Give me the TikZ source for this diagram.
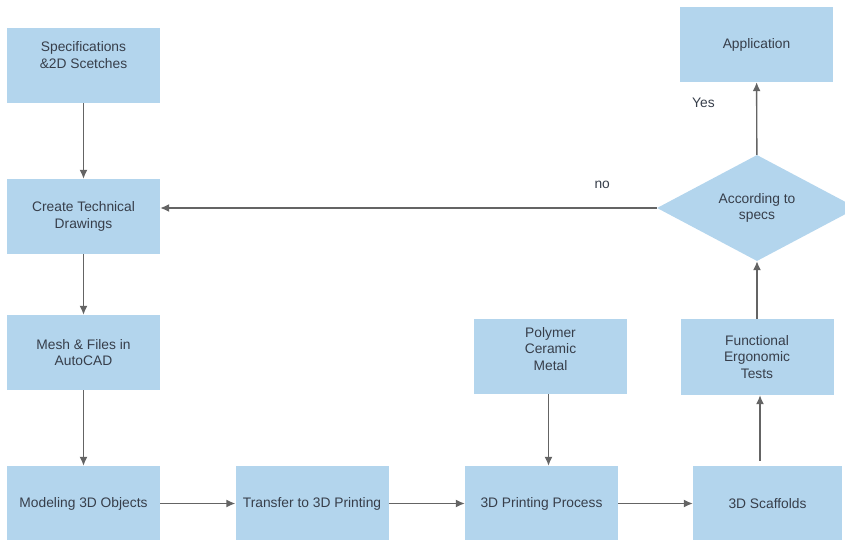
\documentclass[tikz,border=0pt]{standalone}
\usepackage{fontspec}
\setmainfont{Liberation Sans}
\usetikzlibrary{shapes.geometric,arrows.meta}
\definecolor{boxblue}{RGB}{179,213,237}
\definecolor{inkgray}{RGB}{55,62,74}
\definecolor{linegray}{RGB}{100,100,100}
\tikzset{>={Latex[length=9pt,width=8pt]}}
\tikzset{
  block/.style = {fill=boxblue, minimum width=153pt, minimum height=75pt,
    inner sep=0pt, align=center, text=inkgray,
    font=\fontsize{13.8}{16.5}\selectfont},
  decision/.style = {block, diamond, minimum width=200pt, minimum height=100pt},
  flow/.style = {->, draw=linegray, line width=1.4pt},
  tag/.style = {text=inkgray, font=\fontsize{13.8}{16.5}\selectfont}
}

\begin{document}
\begin{tikzpicture}[x=1pt,y=-1pt]
  \clip (0,0) rectangle (845,540);
  % left column
  \node[block] (specs)  at (83.5,65.5)  {Specifications\\\&2D Scetches\\\strut};
  \node[block] (create) at (83.5,216.5) {Create Technical\\Drawings};
  \node[block] (mesh)   at (83.5,352.5) {Mesh \& Files in\\AutoCAD};
  % bottom row
  \node[block] (model)    at (83.5,503.5)  {Modeling 3D Objects};
  \node[block] (transfer) at (312,503.5)   {Transfer to 3D Printing};
  \node[block] (process)  at (541.5,503.5) {3D Printing Process};
  \node[block, minimum width=149pt] (scaffold) at (767.5,503.5) {3D Scaffolds};
  % materials and tests
  \node[block] (material) at (550.5,356.5) {Polymer\\Ceramic\\Metal\\[-6pt]\strut};
  \node[block, minimum height=76pt] (tests) at (757,357) {Functional\\Ergonomic\\Tests};
  % decision
  \node[decision] (check) at (757,208) {According to\\specs};
  \node[block] (app) at (756.5,44.5) {Application};
  % connectors
  \draw[flow] (specs) -- (create);
  \draw[flow] (create) -- (mesh);
  \draw[flow] (mesh) -- (model);
  \draw[flow] (model) -- (transfer);
  \draw[flow] (transfer) -- (process);
  \draw[flow] (process) -- (scaffold);
  \draw[flow] ([xshift=-2pt]material.south) -- ([xshift=-2pt]material.south |- process.north);
  \draw[flow] ([xshift=3pt,yshift=5pt]tests.south |- scaffold.north) -- ([xshift=3pt]tests.south);
  \draw[flow] (tests) -- (check);
  \draw[flow] (check) -- node[tag, pos=0.72, left=38pt] {Yes} (app);
  \draw[flow] (check.west) -- node[tag, pos=0.11, above=15pt] {no} (check.west -| create.east);
\end{tikzpicture}
\end{document}
